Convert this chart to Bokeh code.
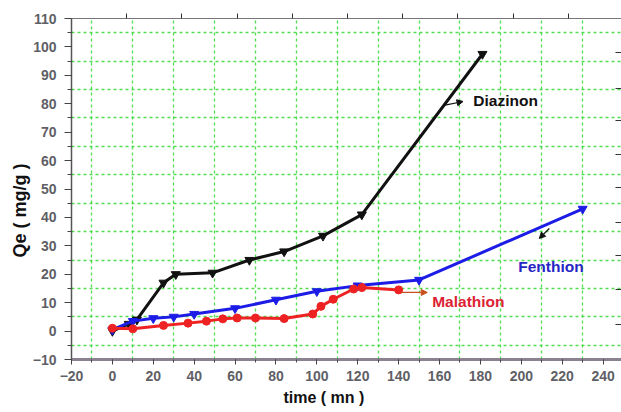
from bokeh.plotting import figure
from bokeh.models import Range1d, LinearAxis, FixedTicker, Label, Arrow, NormalHead, Title
from bokeh.embed import file_html
from bokeh.resources import INLINE

# ---- data ----
time_diazinon = [0, 8, 12, 25, 31, 49, 67, 84, 103, 122, 181]
qe_diazinon = [0, 2.5, 4, 17, 20, 20.5, 25, 28, 33.5, 41, 97.5]

time_fenthion = [0, 10, 20, 30, 40, 60, 80, 100, 120, 150, 230]
qe_fenthion = [0.5, 3.5, 4.5, 5, 6, 8, 11, 14, 16, 18, 43]

time_malathion = [0, 10, 25, 37, 46, 54, 61, 70, 84, 98, 102, 108, 118, 122, 140]
qe_malathion = [1, 0.8, 2, 2.8, 3.5, 4.3, 4.6, 4.6, 4.4, 6, 8.7, 11.2, 14.8, 15.3, 14.5]

series_names = ["Diazinon", "Fenthion", "Malathion"]

x_ticks = list(range(-20, 241, 20))
x_minor_ticks = list(range(-20, 241, 10))
y_ticks = list(range(-10, 111, 10))
y_minor_ticks = list(range(-10, 111, 5))
x_grid = list(range(-10, 241, 20))
y_grid = list(range(-5, 110, 10))
top_ticks = [7, 34, 61, 88, 115, 142, 169, 196, 223]
right_ticks = [2.3, 14.7, 26.6, 38.3, 50.6, 62, 74, 85.5, 98]

p = figure(width=621, height=412, output_backend="svg", toolbar_location=None,
           x_range=Range1d(-20, 249), y_range=Range1d(-10, 110),
           min_border_left=71, min_border_right=0, min_border_top=18, min_border_bottom=53)
p.outline_line_color = None
p.background_fill_color = "white"

# grids at odd positions
p.xgrid.ticker = FixedTicker(ticks=x_grid)
p.ygrid.ticker = FixedTicker(ticks=y_grid)
for g in (p.xgrid, p.ygrid):
    g.grid_line_color = "#3fd93f"
    g.grid_line_width = 1.3
    g.grid_line_dash = "3 3"
    g.grid_line_alpha = 0.9

# bottom axis
xa = p.xaxis[0]
xa.ticker = FixedTicker(ticks=x_ticks, minor_ticks=x_minor_ticks)
xa.axis_line_color = "#8a8290"
xa.axis_line_width = 3
xa.major_tick_line_color = "#444444"
xa.minor_tick_line_color = "#444444"
xa.major_tick_out = 5
xa.major_tick_in = 0
xa.minor_tick_out = 3
xa.minor_tick_in = 0
xa.major_label_standoff = 6
xa.major_label_text_font = "Liberation Sans"
xa.major_label_text_font_style = "bold"
xa.major_label_text_font_size = "14px"
xa.major_label_text_color = "#5f5f66"

# left axis
ya = p.yaxis[0]
ya.ticker = FixedTicker(ticks=y_ticks, minor_ticks=y_minor_ticks)
ya.axis_line_color = "#555555"
ya.axis_line_width = 1.5
ya.major_tick_line_color = "#444444"
ya.minor_tick_line_color = "#444444"
ya.major_tick_out = 7
ya.major_tick_in = 0
ya.minor_tick_out = 4
ya.minor_tick_in = 0
ya.major_label_standoff = 8
ya.major_label_text_font = "Liberation Sans"
ya.major_label_text_font_style = "bold"
ya.major_label_text_font_size = "14px"
ya.major_label_text_color = "#5f5f66"

# top axis (tick marks only)
top = LinearAxis(ticker=FixedTicker(ticks=[], minor_ticks=top_ticks))
top.axis_line_color = "#777777"
top.axis_line_width = 1
top.minor_tick_out = 5
top.minor_tick_in = 0
top.minor_tick_line_color = "#333333"
top.major_label_standoff = 0
p.add_layout(top, "above")

# right axis (tick marks only, pointing inwards)
right = LinearAxis(ticker=FixedTicker(ticks=[], minor_ticks=right_ticks))
right.axis_line_color = None
right.minor_tick_out = 0
right.minor_tick_in = 6
right.minor_tick_line_color = "#333333"
right.major_label_standoff = 0
p.add_layout(right, "right")

# series
p.line(time_diazinon, qe_diazinon, line_color="#111111", line_width=3)
p.scatter(time_diazinon, qe_diazinon, marker="inverted_triangle", size=9,
          fill_color="#111111", line_color="#111111")

p.line(time_fenthion, qe_fenthion, line_color="#1c1ce6", line_width=3)
p.scatter(time_fenthion, qe_fenthion, marker="inverted_triangle", size=9,
          fill_color="#1c1ce6", line_color="#1c1ce6")

p.line(time_malathion, qe_malathion, line_color="#ee2222", line_width=3)
p.scatter(time_malathion, qe_malathion, marker="circle", size=8,
          fill_color="#ee2222", line_color="#ee2222")

# series labels with arrows
lab_font = "Liberation Sans"
p.add_layout(Label(x=176.5, y=81.1, text=series_names[0], text_color="#111111",
                   text_font=lab_font, text_font_style="bold", text_font_size="15.5px",
                   text_baseline="alphabetic"))
p.add_layout(Arrow(x_start=162.2, y_start=79.4, x_end=171.5, y_end=80.8,
                   line_color="#111111", line_width=1.2,
                   end=NormalHead(size=6, fill_color="#111111", line_color="#111111")))

p.add_layout(Label(x=198.5, y=22.7, text=series_names[1], text_color="#2626c4",
                   text_font=lab_font, text_font_style="bold", text_font_size="15.5px",
                   text_baseline="alphabetic"))
p.add_layout(Arrow(x_start=213.7, y_start=36.1, x_end=208.8, y_end=32.6,
                   line_color="#111111", line_width=1.2,
                   end=NormalHead(size=6, fill_color="#111111", line_color="#111111")))

p.add_layout(Label(x=156.4, y=10.4, text=series_names[2], text_color="#dd2233",
                   text_font=lab_font, text_font_style="bold", text_font_size="15.5px",
                   text_baseline="alphabetic"))
p.add_layout(Arrow(x_start=141.2, y_start=13.6, x_end=154.0, y_end=13.6,
                   line_color="#c8501e", line_width=1.2,
                   end=NormalHead(size=6, fill_color="#c8501e", line_color="#c8501e")))

# axis titles (as titles so they can be offset along the frame)
ytitle = Title(text="Qe ( mg/g )", align="left", offset=102, standoff=0,
               text_color="#111111", text_font=lab_font, text_font_style="bold",
               text_font_size="18px")
p.add_layout(ytitle, "left")
xtitle = Title(text="time ( mn )", align="left", offset=212, standoff=6,
               text_color="#111111", text_font=lab_font, text_font_style="bold",
               text_font_size="16px")
p.add_layout(xtitle, "below")

open("out.html", "w").write(file_html(p, INLINE))
